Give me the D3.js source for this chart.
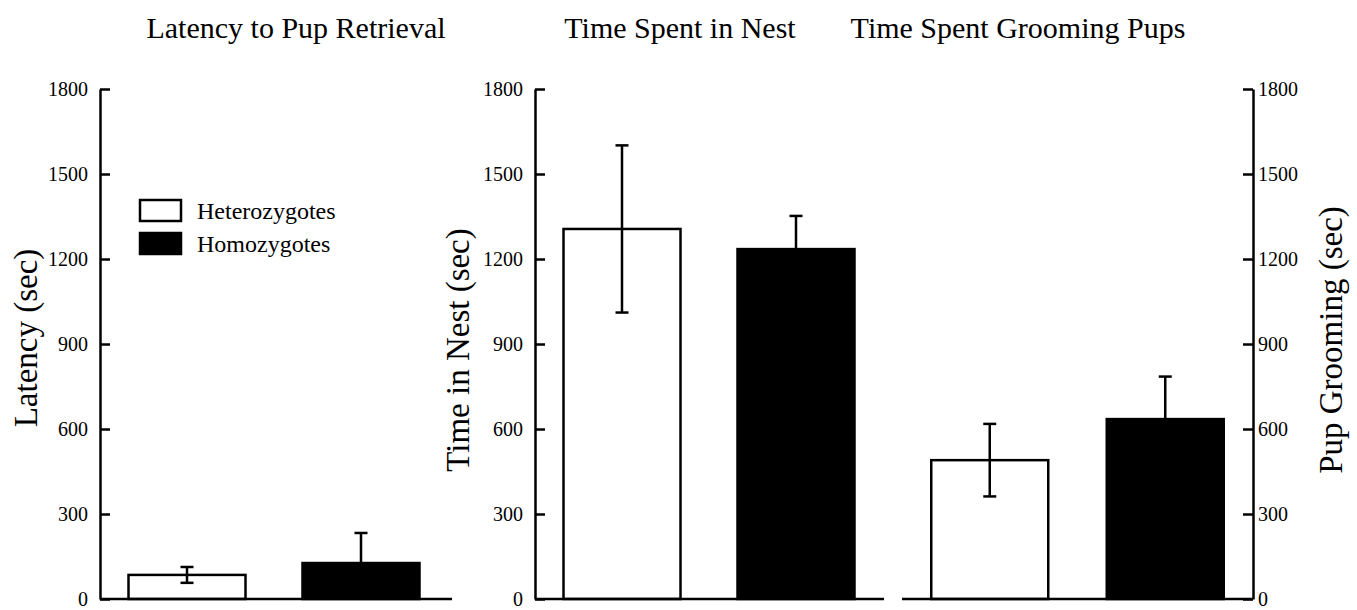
<!DOCTYPE html>
<html>
<head>
<meta charset="utf-8">
<script src="https://cdn.jsdelivr.net/npm/d3@7"></script>
<style>
  html, body { margin: 0; padding: 0; background: #fff; }
  svg { display: block; font-family: "Liberation Serif", "Times New Roman", serif; }
</style>
</head>
<body>
<svg id="chart" width="1357" height="610"></svg>
<script>
// ---- data ----
const groups = ["Heterozygotes", "Homozygotes"];
const yTicks = [0, 300, 600, 900, 1200, 1500, 1800];

const latencyMean = [85, 127];
const latencyErr  = [28, 106];

const nestMean = [1306, 1235];
const nestErr  = [295, 117];

const groomMean = [490, 635];
const groomErr  = [128, 150];

const titles = ["Latency to Pup Retrieval", "Time Spent in Nest", "Time Spent Grooming Pups"];
const axisTitles = ["Latency (sec)", "Time in Nest (sec)", "Pup Grooming (sec)"];
const fills = ["#ffffff", "#000000"];

// ---- layout ----
const svg = d3.select("#chart");
const y = d3.scaleLinear().domain([0, 1800]).range([599, 89]);
const barW = 117;
const sw = 2.5;

const panels = [
  { mean: latencyMean, err: latencyErr, axisX: 100, base: [100, 452], pts: [100, 448], side: "left",
    title: titles[0], titleX: 296, axisTitle: axisTitles[0], atX: 25, atY: 338 },
  { mean: nestMean, err: nestErr, axisX: 535, base: [535, 884], pts: [535, 883], side: "left",
    title: titles[1], titleX: 680, axisTitle: axisTitles[1], atX: 457, atY: 350 },
  { mean: groomMean, err: groomErr, axisX: 1253, base: [902, 1253], pts: [902, 1253], side: "right",
    title: titles[2], titleX: 1018, axisTitle: axisTitles[2], atX: 1330, atY: 340 }
];

panels.forEach(p => {
  const x = d3.scalePoint().domain(groups).range(p.pts).padding(0.5);
  const g = svg.append("g");

  // bars
  g.selectAll("rect.bar").data(groups).join("rect")
    .attr("class", "bar")
    .attr("x", d => x(d) - barW / 2)
    .attr("y", (d, i) => y(p.mean[i]))
    .attr("width", barW)
    .attr("height", (d, i) => y(0) - y(p.mean[i]))
    .attr("fill", (d, i) => fills[i])
    .attr("stroke", "#000")
    .attr("stroke-width", sw);

  // error bars
  const cap = 13;
  groups.forEach((d, i) => {
    const cx = x(d);
    const hi = y(p.mean[i] + p.err[i]);
    const lo = y(p.mean[i] - p.err[i]);
    g.append("line").attr("x1", cx).attr("x2", cx).attr("y1", hi).attr("y2", lo)
      .attr("stroke", "#000").attr("stroke-width", sw);
    g.append("line").attr("x1", cx - cap / 2).attr("x2", cx + cap / 2).attr("y1", hi).attr("y2", hi)
      .attr("stroke", "#000").attr("stroke-width", sw);
    g.append("line").attr("x1", cx - cap / 2).attr("x2", cx + cap / 2).attr("y1", lo).attr("y2", lo)
      .attr("stroke", "#000").attr("stroke-width", sw);
  });

  // baseline
  g.append("line").attr("x1", p.base[0]).attr("x2", p.base[1]).attr("y1", y(0)).attr("y2", y(0))
    .attr("stroke", "#000").attr("stroke-width", sw);

  // y axis
  const axis = (p.side === "left" ? d3.axisLeft(y).tickPadding(12) : d3.axisRight(y).tickPadding(5))
    .tickValues(yTicks).tickSizeInner(-10).tickSizeOuter(0).tickFormat(d3.format("d"));
  const ag = svg.append("g").attr("transform", `translate(${p.axisX},0)`).call(axis)
    .attr("font-family", "Liberation Serif").attr("font-size", 20);
  ag.select(".domain").attr("stroke-width", sw);
  ag.selectAll(".tick line").attr("stroke-width", sw);
  ag.selectAll(".tick text").attr("fill", "#000");

  // titles
  svg.append("text").attr("x", p.titleX).attr("y", 38).attr("text-anchor", "middle")
    .attr("font-size", 30).text(p.title);
  svg.append("text").attr("transform", `translate(${p.atX},${p.atY}) rotate(-90)`)
    .attr("text-anchor", "middle").attr("dy", "0.35em").attr("font-size", 33).text(p.axisTitle);
});

// legend
const legend = svg.append("g");
groups.forEach((gname, i) => {
  legend.append("rect").attr("x", 140).attr("y", 200 + i * 33).attr("width", 41).attr("height", 21)
    .attr("fill", fills[i]).attr("stroke", "#000").attr("stroke-width", sw);
  legend.append("text").attr("x", 197).attr("y", 211 + i * 33).attr("dy", "0.35em")
    .attr("font-size", 24).text(gname);
});
</script>
</body>
</html>
